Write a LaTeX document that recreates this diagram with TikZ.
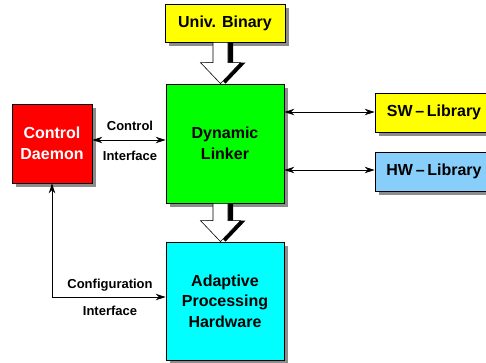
\documentclass[tikz,border=0pt]{standalone}
\usepackage{fontspec}
\setmainfont{Liberation Sans}
\usetikzlibrary{shadows,arrows.meta,calc}
\definecolor{libblue}{HTML}{87CEFA}
\definecolor{boxcyan}{RGB}{0,255,255}
\definecolor{boxyellow}{RGB}{255,255,0}
\definecolor{boxgreen}{RGB}{0,255,0}
\definecolor{boxred}{RGB}{255,0,0}
\newcommand\boxfont{\fontsize{16}{20.5}\selectfont\bfseries}
\newcommand\lblfont{\fontsize{13}{15}\selectfont\bfseries}
% thick hollow arrow with a dark side shadow, from node anchor #1 down to node anchor #2
\newcommand\hollowarrow[2]{%
  \fill[black] let \p1=(#1), \p2=(#2) in
    (\x1-7.5pt+5pt,\y1) -- (\x1+7.5pt+5pt,\y1) -- (\x1+7.5pt+5pt,\y2+21pt)
    -- (\x1+20pt+5pt,\y2+21pt) -- (\x1+5pt,\y2) -- (\x1-20pt+5pt,\y2+21pt)
    -- (\x1-7.5pt+5pt,\y2+21pt) -- cycle;
  \filldraw[fill=white,draw=black,line width=0.6pt] let \p1=(#1), \p2=(#2) in
    (\x1-7.5pt,\y1) -- (\x1+7.5pt,\y1) -- (\x1+7.5pt,\y2+21pt)
    -- (\x1+20pt,\y2+21pt) -- (\x1,\y2) -- (\x1-20pt,\y2+21pt)
    -- (\x1-7.5pt,\y2+21pt) -- cycle;
}
\begin{document}
\begin{tikzpicture}[x=1pt,y=-1pt,
  block/.style={draw=black, line width=0.8pt, align=center, inner sep=0pt,
    font=\boxfont, text=black,
    drop shadow={shadow xshift=3.5pt, shadow yshift=-3.5pt, fill=black!45, opacity=1}},
  lbl/.style={font=\lblfont, inner sep=0pt},
  link/.style={line width=0.8pt, {Stealth[length=10pt,width=6.5pt]}-{Stealth[length=10pt,width=6.5pt]}}
]
\useasboundingbox (0,0) rectangle (486,362);

\node[block, fill=boxyellow, minimum width=120pt, minimum height=38pt] (univ) at (225,23) {Univ. Binary};
\node[block, fill=boxgreen, minimum width=118pt, minimum height=119pt] (linker) at (225,143.5) {Dynamic\\Linker};
\node[block, fill=boxred, text=white, minimum width=80pt, minimum height=79pt] (daemon) at (52,143.5) {Control\\Daemon};
\node[block, fill=boxyellow, minimum width=118pt, minimum height=39pt] (swlib) at (434,112.5) {SW\,–\,Library};
\node[block, fill=libblue, minimum width=118pt, minimum height=39pt] (hwlib) at (434,171.5) {HW\,–\,Library};
\node[block, fill=boxcyan, minimum width=118pt, minimum height=118pt] (aph) at (225,301) {Adaptive\\Processing\\Hardware};

% data flow: binary into the linker, linker onto the hardware
\hollowarrow{$(univ.south)+(-4.5,0)$}{$(linker.north)+(-4.5,0)$}
\hollowarrow{$(linker.south)+(-4.5,0)$}{$(aph.north)+(-4.5,0)$}

% control interface
\draw[link] (daemon.east |- 0,140) -- (linker.west |- 0,140);
\node[lbl] (ctl1) at (130,126) {Control};
\node[lbl] (ctl2) at (130,155.5) {Interface};

% library links
\draw[link] (linker.east |- 0,112) -- (swlib.west |- 0,112);
\draw[link] (linker.east |- 0,170) -- (hwlib.west |- 0,170);

% configuration interface
\coordinate (cfgcorner) at (52,297);
\draw[link] (daemon.south) -- (cfgcorner) -- (aph.west |- cfgcorner);
\node[lbl] (cfg1) at (110,285) {Configuration};
\node[lbl] (cfg2) at (110,311) {Interface};
\end{tikzpicture}
\end{document}
